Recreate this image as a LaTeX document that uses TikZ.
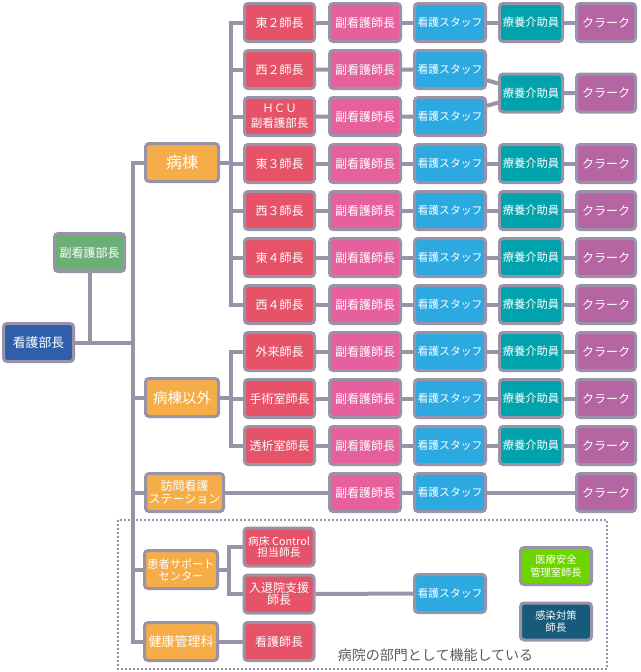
\documentclass[tikz,border=0pt]{standalone}
\usepackage{fontspec}
\setmainfont{Noto Sans CJK JP}
\usepackage{xcolor}
\definecolor{vgray}{HTML}{9A92A8}
\definecolor{vnavy}{HTML}{2F5FAA}
\definecolor{vgreen}{HTML}{6BAF75}
\definecolor{vorange}{HTML}{F5AD47}
\definecolor{vred}{HTML}{E65268}
\definecolor{vpink}{HTML}{E5609C}
\definecolor{vsky}{HTML}{2DA9E1}
\definecolor{vteal}{HTML}{00A2AC}
\definecolor{vplum}{HTML}{B665A3}
\definecolor{vlime}{HTML}{6DD400}
\definecolor{vdeep}{HTML}{165A7C}
\definecolor{vtext}{HTML}{5A5A5A}
\newcommand{\fsz}[2]{\fontsize{#1}{#2}\selectfont}

\begin{document}
\begin{tikzpicture}[x=1pt, y=-1pt,
	box/.style={draw=vgray, line width=3pt, rounded corners=3.5pt, text=white, minimum height=38pt, inner sep=1pt, align=center, font=\fsz{12}{12.5}},
	head/.style={box, fill=vred, minimum width=70pt},
	vice/.style={box, fill=vpink, minimum width=71pt},
	staff/.style={box, fill=vsky, minimum width=71pt, font=\fsz{10.8}{12}},
	aide/.style={box, fill=vteal, minimum width=63pt, font=\fsz{11.3}{12}},
	clerk/.style={box, fill=vplum, minimum width=59pt},
	dept/.style={box, fill=vorange, minimum width=73pt},
	conn/.style={draw=vgray, line width=4pt}]
	\useasboundingbox (0,0) rectangle (640,672);

	% top of the tree
	\node[box, fill=vnavy, minimum width=70pt, font=\fsz{12.8}{14}] (chief) at (38.5,342.5) {看護部長};
	\node[box, fill=vgreen, minimum width=70pt] (vchief) at (89.5,252.5) {副看護部長};

	% departments
	\node[dept, font=\fsz{16}{18}] (ward) at (182,162.5) {病棟};
	\node[dept, font=\fsz{14.5}{16}] (other) at (182,397.5) {病棟以外};
	\node[dept, minimum width=78pt] (homon) at (184.5,492.5) {訪問看護\\ステーション};
	\node[dept, font=\fsz{11.2}{12}] (kanja) at (181,569.5) {患者サポート\\センター};
	\node[dept, font=\fsz{13}{14}] (kenko) at (181,641.5) {健康管理科};

	% heads
	\node[head] (h1) at (279.5,22.5) {東２師長};
	\node[head] (h2) at (279.5,69.5) {西２師長};
	\node[head, font=\fsz{11.5}{15}] (h3) at (279.5,116.5) {ＨＣＵ\\副看護部長};
	\node[head] (h4) at (279.5,163.5) {東３師長};
	\node[head] (h5) at (279.5,210.5) {西３師長};
	\node[head] (h6) at (279.5,257.5) {東４師長};
	\node[head] (h7) at (279.5,304.5) {西４師長};
	\node[head] (h8) at (279.5,351.5) {外来師長};
	\node[head] (h9) at (279.5,398.5) {手術室師長};
	\node[head] (h10) at (279.5,445.5) {透析室師長};
	\node[head, font=\fsz{10.8}{11.5}] (bed) at (279,547) {病床 Control\\担当師長};
	\node[head] (taiin) at (279,594) {入退院支援\\師長};
	\node[head] (kango) at (279,641.5) {看護師長};

	% vice heads
	\node[vice] (v1) at (365,22.5) {副看護師長};
	\node[vice] (v2) at (365,69.5) {副看護師長};
	\node[vice] (v3) at (365,116.5) {副看護師長};
	\node[vice] (v4) at (365,163.5) {副看護師長};
	\node[vice] (v5) at (365,210.5) {副看護師長};
	\node[vice] (v6) at (365,257.5) {副看護師長};
	\node[vice] (v7) at (365,304.5) {副看護師長};
	\node[vice] (v8) at (365,351.5) {副看護師長};
	\node[vice] (v9) at (365,398.5) {副看護師長};
	\node[vice] (v10) at (365,445.5) {副看護師長};
	\node[vice] (v11) at (365,492.5) {副看護師長};

	% staff
	\node[staff] (s1) at (450,22.5) {看護スタッフ};
	\node[staff] (s2) at (450,69.5) {看護スタッフ};
	\node[staff] (s3) at (450,116.5) {看護スタッフ};
	\node[staff] (s4) at (450,163.5) {看護スタッフ};
	\node[staff] (s5) at (450,210.5) {看護スタッフ};
	\node[staff] (s6) at (450,257.5) {看護スタッフ};
	\node[staff] (s7) at (450,304.5) {看護スタッフ};
	\node[staff] (s8) at (450,351.5) {看護スタッフ};
	\node[staff] (s9) at (450,398.5) {看護スタッフ};
	\node[staff] (s10) at (450,445.5) {看護スタッフ};
	\node[staff] (s11) at (450,492.5) {看護スタッフ};
	\node[staff] (s12) at (450,593.5) {看護スタッフ};

	% aides
	\node[aide] (a1) at (531,22.5) {療養介助員};
	\node[aide] (a23) at (531,93) {療養介助員};
	\node[aide] (a4) at (531,163.5) {療養介助員};
	\node[aide] (a5) at (531,210.5) {療養介助員};
	\node[aide] (a6) at (531,257.5) {療養介助員};
	\node[aide] (a7) at (531,304.5) {療養介助員};
	\node[aide] (a8) at (531,351.5) {療養介助員};
	\node[aide] (a9) at (531,398.5) {療養介助員};
	\node[aide] (a10) at (531,445.5) {療養介助員};

	% clerks
	\node[clerk] (c1) at (606,22.5) {クラーク};
	\node[clerk] (c23) at (606,93) {クラーク};
	\node[clerk] (c4) at (606,163.5) {クラーク};
	\node[clerk] (c5) at (606,210.5) {クラーク};
	\node[clerk] (c6) at (606,257.5) {クラーク};
	\node[clerk] (c7) at (606,304.5) {クラーク};
	\node[clerk] (c8) at (606,351.5) {クラーク};
	\node[clerk] (c9) at (606,398.5) {クラーク};
	\node[clerk] (c10) at (606,445.5) {クラーク};
	\node[clerk] (c11) at (606,492.5) {クラーク};

	% staff rooms
	\node[box, fill=vlime, minimum width=71pt, minimum height=37pt, font=\fsz{10.3}{12.5}] (anzen) at (556,566) {医療安全\\管理室師長};
	\node[box, fill=vdeep, minimum width=71pt, minimum height=37pt, font=\fsz{10.3}{12.5}] (kansen) at (556,621.5) {感染対策\\師長};

	\coordinate (tk) at (133,0);
	\coordinate (bk) at (231,0);
	\coordinate (bk2) at (229,0);

	% trunk
	\draw[conn] (vchief) -- (vchief.south |- chief.east);
	\draw[conn] (chief.east) -- (chief.east -| tk);
	\draw[conn] (ward.west) -- (ward.west -| tk) -- (kenko.west -| tk) -- (kenko.west);
	\draw[conn] (other.west) -- (other.west -| tk);
	\draw[conn] (homon.west) -- (homon.west -| tk);
	\draw[conn] (kanja.west) -- (kanja.west -| tk);

	% brackets
	\draw[conn] (ward.east) -- (ward.east -| bk);
	\draw[conn] (h1.west) -- (h1.west -| bk) -- (h7.west -| bk) -- (h7.west);
	\draw[conn] (h2.west) -- (h2.west -| bk);
	\draw[conn] (h3.west) -- (h3.west -| bk);
	\draw[conn] (h4.west) -- (h4.west -| bk);
	\draw[conn] (h5.west) -- (h5.west -| bk);
	\draw[conn] (h6.west) -- (h6.west -| bk);
	\draw[conn] (other.east) -- (other.east -| bk);
	\draw[conn] (h8.west) -- (h8.west -| bk) -- (h10.west -| bk) -- (h10.west);
	\draw[conn] (h9.west) -- (h9.west -| bk);
	\draw[conn] (kanja.east) -- (kanja.east -| bk2);
	\draw[conn] (bed.west) -- (bed.west -| bk2) -- (taiin.west -| bk2) -- (taiin.west);
	\draw[conn] (kenko) -- (kango);

	% rows
	\draw[conn] (h1) -- (v1) -- (s1) -- (a1) -- (c1);
	\draw[conn] (h2) -- (v2) -- (s2) -- (a23) -- (c23);
	\draw[conn] (h3) -- (v3) -- (s3) -- (a23);
	\draw[conn] (h4) -- (v4) -- (s4) -- (a4) -- (c4);
	\draw[conn] (h5) -- (v5) -- (s5) -- (a5) -- (c5);
	\draw[conn] (h6) -- (v6) -- (s6) -- (a6) -- (c6);
	\draw[conn] (h7) -- (v7) -- (s7) -- (a7) -- (c7);
	\draw[conn] (h8) -- (v8) -- (s8) -- (a8) -- (c8);
	\draw[conn] (h9) -- (v9) -- (s9) -- (a9) -- (c9);
	\draw[conn] (h10) -- (v10) -- (s10) -- (a10) -- (c10);
	\draw[conn] (homon) -- (v11) -- (s11) -- (c11);
	\draw[conn] (taiin) -- (s12);

	% hospital-wide area
	\draw[vgray, line width=2pt, dash pattern=on 2pt off 2pt] (118,520) rectangle (607,669);
	\node[font=\fsz{14}{16}, text=vtext] (note) at (435.5,655.5) {病院の部門として機能している};
\end{tikzpicture}
\end{document}
